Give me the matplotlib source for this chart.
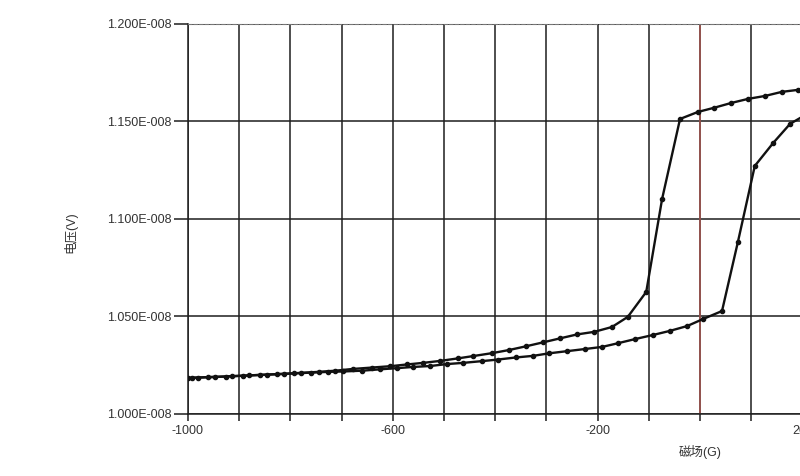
import matplotlib
matplotlib.use('Agg')
import matplotlib.pyplot as plt
from matplotlib.ticker import FuncFormatter, MultipleLocator, FixedLocator

plt.rcParams['font.family'] = ['Liberation Sans', 'Noto Sans CJK SC', 'DejaVu Sans']
plt.rcParams['axes.unicode_minus'] = False

# field (G) and voltage (x1e-8 V)
scale = 1e-8
field_down = [-1000, -980, -948, -914, -880, -846, -812, -779, -745, -712,
              -678, -641, -605, -572, -541, -508, -473, -443, -406, -373,
              -340, -307, -273, -240, -207, -172, -141, -105, -74, -39,
              -4, 27, 61, 94, 127, 160, 191, 225]
volt_down = [1.0186, 1.0187, 1.0190, 1.0194, 1.0198, 1.0202, 1.0206, 1.0211, 1.0216, 1.0222,
             1.0231, 1.0238, 1.0245, 1.0254, 1.0262, 1.0272, 1.0285, 1.0297, 1.0312, 1.0328,
             1.0347, 1.0367, 1.0388, 1.0408, 1.0421, 1.0446, 1.0498, 1.0626, 1.1103, 1.1513,
             1.1549, 1.1570, 1.1595, 1.1616, 1.1631, 1.1652, 1.1662, 1.1672]

field_up = [-993, -960, -926, -893, -860, -826, -793, -760, -726, -697,
            -660, -625, -592, -561, -527, -494, -463, -426, -395, -359,
            -326, -295, -260, -225, -191, -160, -127, -92, -59, -25,
            6, 43, 74, 107, 143, 176, 210]
volt_up = [1.0185, 1.0189, 1.0192, 1.0196, 1.0200, 1.0204, 1.0208, 1.0212, 1.0216, 1.0218,
           1.0222, 1.0229, 1.0235, 1.0241, 1.0246, 1.0256, 1.0262, 1.0271, 1.0279, 1.0290,
           1.0298, 1.0311, 1.0322, 1.0333, 1.0344, 1.0363, 1.0384, 1.0405, 1.0426, 1.0451,
           1.0487, 1.0528, 1.0882, 1.1272, 1.1390, 1.1488, 1.1540]

x_labels = [-1000, -600, -200, 200, 600, 1000]


def sci3(v, pos):
    if v == 0:
        return '0.000E+000'
    s = '%.3E' % v
    mant, ex = s.split('E')
    sign = '-' if ex[0] == '-' else '+'
    return '%sE%s%03d' % (mant, sign, abs(int(ex)))


fig = plt.figure(figsize=(8, 4.76), dpi=100)
# axes runs past the right edge, the reference is cropped there
ax = fig.add_axes([0.235, 0.1303, 1.28, 0.8193])

grid_col = '#1e1e1e'
ax.plot(field_down, [v * scale for v in volt_down], color='#111111', lw=1.7,
        marker='o', ms=3, zorder=4)
ax.plot(field_up, [v * scale for v in volt_up], color='#111111', lw=1.7,
        marker='o', ms=3, zorder=4)

ax.set_xlim(-1000, 1000)
ax.set_ylim(1.0e-8, 1.2e-8)

ax.xaxis.set_major_locator(FixedLocator(x_labels))
ax.xaxis.set_minor_locator(MultipleLocator(100))
ax.yaxis.set_major_locator(MultipleLocator(0.05e-8))
ax.yaxis.set_major_formatter(FuncFormatter(sci3))

ax.grid(which='both', axis='x', color=grid_col, lw=1.1, zorder=1)
ax.grid(which='major', axis='y', color=grid_col, lw=1.1, zorder=1)
ax.axvline(0, color='#a0554f', lw=1.2, zorder=2)
ax.set_axisbelow(True)

ax.tick_params(axis='y', which='major', length=10, width=1.1, color=grid_col,
               labelsize=9, labelcolor='#333333', pad=2)
ax.tick_params(axis='x', which='both', length=5, width=1.1, color=grid_col,
               labelsize=9, labelcolor='#333333', pad=3)

ax.spines['right'].set_visible(False)
ax.spines['top'].set_linestyle((0, (3, 2)))
ax.spines['top'].set_color('#777777')
ax.spines['top'].set_linewidth(0.8)
ax.spines['left'].set_color(grid_col)
ax.spines['left'].set_linewidth(1.1)
ax.spines['bottom'].set_color(grid_col)
ax.spines['bottom'].set_linewidth(1.1)

ax.set_xlabel('磁场(G)', fontsize=9, color='#333333', labelpad=6)
fig.text(70 / 800, 1 - 232 / 476, '电压(V)', rotation=90, fontsize=9,
         color='#333333', ha='center', va='center')

fig.savefig('out.png', dpi=100)
